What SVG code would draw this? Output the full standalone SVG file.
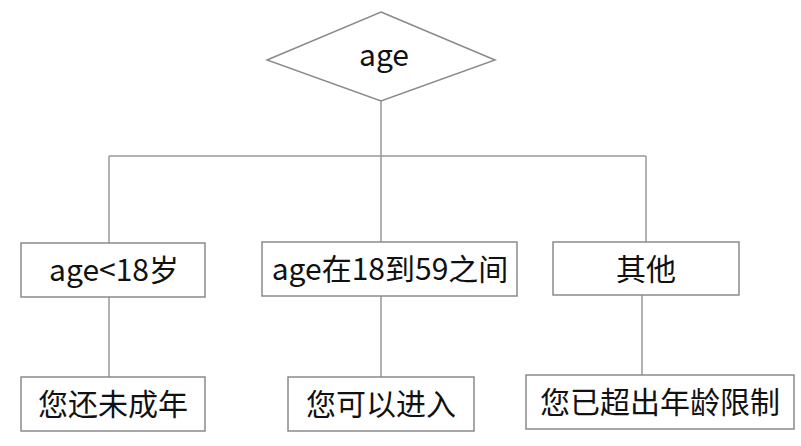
<svg xmlns="http://www.w3.org/2000/svg" width="801" height="446" viewBox="0 0 801 446">
<style>
.box{fill:#fff;stroke:#8a8a8a;stroke-width:1.5}
.ln{fill:none;stroke:#999;stroke-width:1.5}
text{font-family:"Noto Sans CJK SC","Noto Sans",sans-serif;font-size:30px;fill:#111;text-anchor:middle}
</style>
<rect width="801" height="446" fill="#fff"/>
<g id="connectors">
<path class="ln" d="M381 101V156M109 156H646M109 156V243M381 156V242M646 156V242M109 297V377M381 296V377M642 295V375"/>
</g>
<g id="n-age"><polygon class="box" points="381,12 495,60 381,101 267,60"/><text x="384" y="66">age</text></g>
<g id="n-lt18"><rect class="box" x="21" y="243" width="184" height="54"/><text x="114" y="281">age&lt;18岁</text></g>
<g id="n-mid"><rect class="box" x="262" y="242" width="255" height="54"/><text x="390" y="280">age在18到59之间</text></g>
<g id="n-other"><rect class="box" x="553" y="242" width="186" height="53"/><text x="646" y="280">其他</text></g>
<g id="n-minor"><rect class="box" x="21" y="377" width="184" height="54"/><text x="113" y="415">您还未成年</text></g>
<g id="n-enter"><rect class="box" x="288" y="377" width="186" height="54"/><text x="381" y="415">您可以进入</text></g>
<g id="n-over"><rect class="box" x="526" y="375" width="268" height="54"/><text x="660" y="413">您已超出年龄限制</text></g>
</svg>
